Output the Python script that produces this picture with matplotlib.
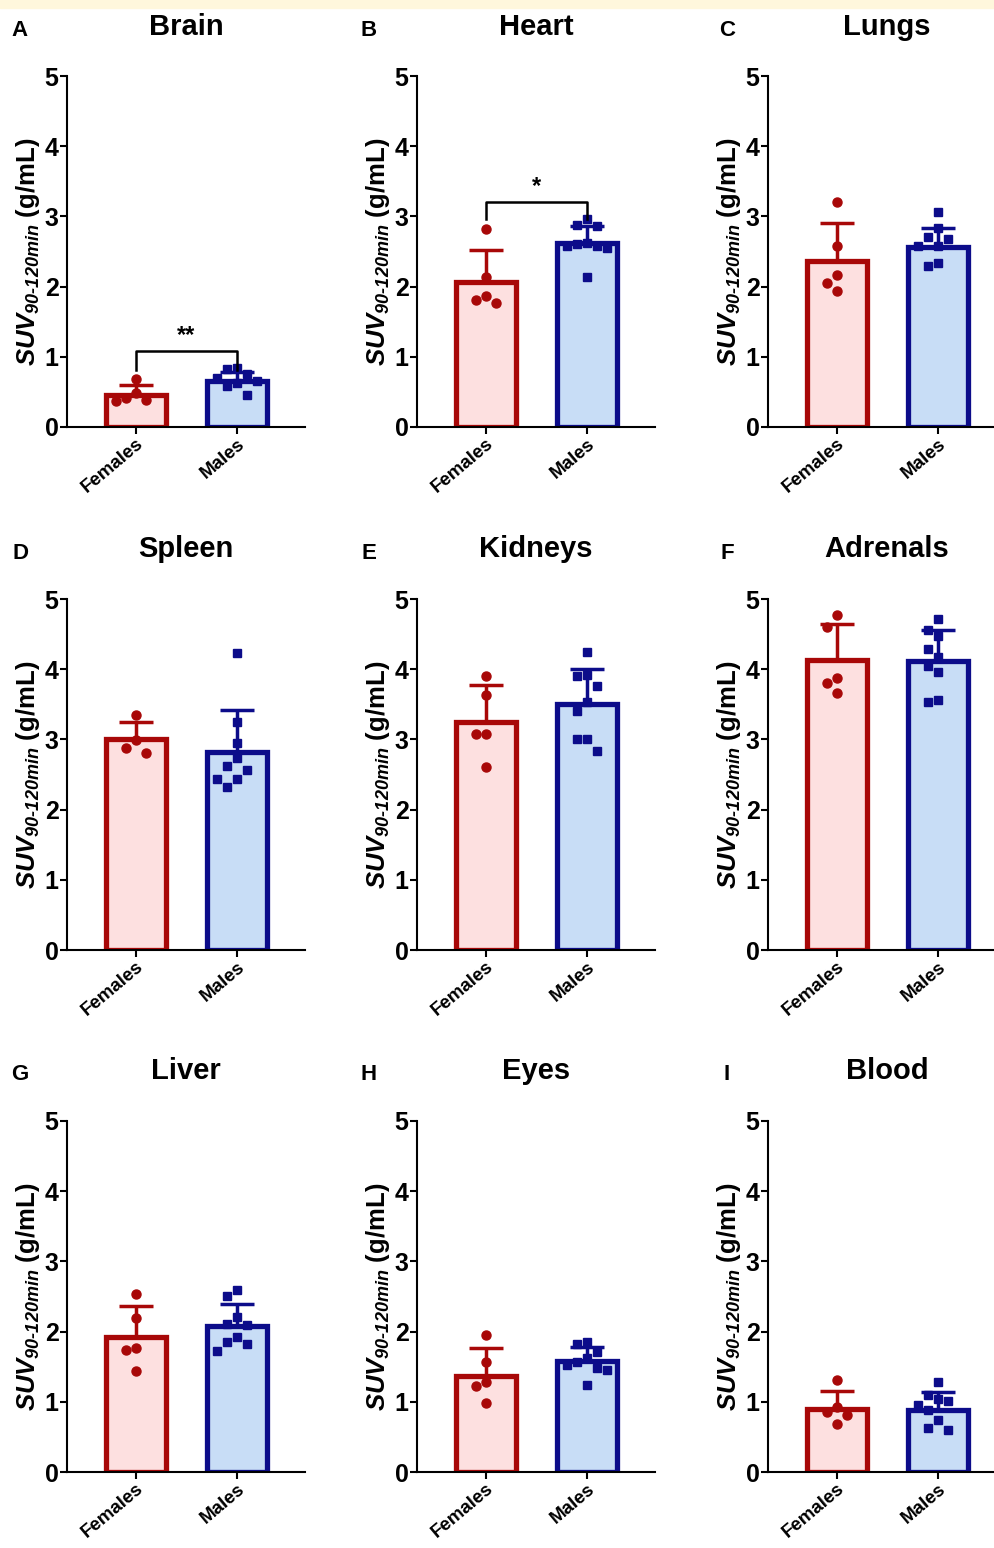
import matplotlib
matplotlib.use("Agg")

import matplotlib.pyplot as plt
from matplotlib.patches import Rectangle

plt.rcParams["font.family"] = "Liberation Sans"
plt.rcParams["font.weight"] = "bold"
plt.rcParams["mathtext.fontset"] = "custom"
plt.rcParams["mathtext.rm"] = "Liberation Sans:bold:italic"
plt.rcParams["mathtext.it"] = "Liberation Sans:bold:italic"
plt.rcParams["mathtext.bf"] = "Liberation Sans:bold:italic"

# data
organs = ["Brain", "Heart", "Lungs", "Spleen", "Kidneys", "Adrenals", "Liver", "Eyes", "Blood"]
letters = ["A", "B", "C", "D", "E", "F", "G", "H", "I"]
groups = ["Females", "Males"]

female_mean = [0.46, 2.07, 2.37, 3.00, 3.25, 4.13, 1.93, 1.37, 0.90]
female_sd = [0.14, 0.45, 0.54, 0.25, 0.52, 0.52, 0.43, 0.40, 0.26]
male_mean = [0.66, 2.62, 2.57, 2.82, 3.51, 4.12, 2.08, 1.58, 0.88]
male_sd = [0.13, 0.25, 0.26, 0.60, 0.49, 0.44, 0.31, 0.20, 0.26]

female_points = [
    [0.69, 0.48, 0.39, 0.37, 0.41],
    [2.82, 2.14, 1.86, 1.77, 1.81],
    [3.20, 2.58, 2.17, 2.05, 1.94],
    [3.35, 2.99, 2.88, 2.81],
    [3.90, 3.63, 3.08, 3.07, 2.61],
    [4.77, 4.60, 3.88, 3.81, 3.66],
    [2.54, 2.19, 1.77, 1.74, 1.44],
    [1.95, 1.56, 1.28, 1.22, 0.98],
    [1.31, 0.93, 0.85, 0.81, 0.68],
]
male_points = [
    [0.84, 0.46, 0.63, 0.70, 0.75, 0.58, 0.82, 0.66],
    [2.97, 2.86, 2.88, 2.60, 2.58, 2.55, 2.58, 2.13, 2.62],
    [3.06, 2.83, 2.68, 2.70, 2.58, 2.58, 2.29, 2.33],
    [4.23, 3.25, 2.95, 2.74, 2.62, 2.56, 2.43, 2.43, 2.32],
    [4.25, 3.90, 3.92, 3.76, 3.53, 3.40, 3.01, 3.01, 2.84],
    [4.72, 4.48, 4.56, 4.29, 4.18, 4.04, 3.96, 3.53, 3.56],
    [2.59, 2.51, 2.21, 2.11, 2.09, 1.93, 1.85, 1.82, 1.73],
    [1.82, 1.85, 1.71, 1.62, 1.52, 1.46, 1.56, 1.48, 1.24],
    [1.28, 1.10, 1.04, 1.01, 0.96, 0.74, 0.62, 0.60, 0.88],
]

# significance brackets: panel index, label, bracket height, leg bottom
sig_panel = [0, 1]
sig_label = ["**", "*"]
sig_top = [1.08, 3.20]
sig_leg = [0.81, 2.97]

F_EDGE, F_FILL = "#a80808", "#fde0e0"
M_EDGE, M_FILL = "#0c0c8a", "#c8ddf6"
YLABEL = r"$SUV_{90\text{-}120min}$ (g/mL)"


def spread(vals, dy=0.2, dx=0.1):
    """grid beeswarm: push overlapping points to side slots"""
    order = sorted(range(len(vals)), key=lambda i: -vals[i])
    slots = [0, -1, 1, -2, 2, -3, 3]
    placed = []
    offs = [0.0] * len(vals)
    for i in order:
        for k in slots:
            if all(pk != k or abs(vals[i] - pv) >= dy for pv, pk in placed):
                placed.append((vals[i], k))
                offs[i] = k * dx
                break
    return offs


fig = plt.figure(figsize=(9.94, 15.48), dpi=100)
fig.patches.append(Rectangle((0, 1 - 8 / 1548), 1, 8 / 1548, transform=fig.transFigure,
                             color="#fff7dc", zorder=0))

col_left = [67, 417, 768]
row_bottom = [427, 950, 1472]
row_title = [27, 549, 1071]
W, H = 238, 351

for i, organ in enumerate(organs):
    r, c = divmod(i, 3)
    ax = fig.add_axes([col_left[c] / 994, 1 - row_bottom[r] / 1548, W / 994, H / 1548])
    ax.set_xlim(-0.683, 1.673)
    ax.set_ylim(0, 5)

    for x, mean, sd, pts, edge, fill, mk, ms in [
        (0, female_mean[i], female_sd[i], female_points[i], F_EDGE, F_FILL, "o", 6.5),
        (1, male_mean[i], male_sd[i], male_points[i], M_EDGE, M_FILL, "s", 6.0),
    ]:
        ax.bar(x, mean, width=0.6, color=fill, edgecolor=edge, linewidth=3.8, zorder=2)
        ax.errorbar(x, mean, yerr=[[0], [sd]], color=edge, elinewidth=2.5,
                    capsize=12, capthick=2.5, zorder=3)
        offs = spread(pts)
        ax.plot([x + o for o in offs], pts, ls="none", marker=mk, ms=ms,
                color=edge, mec=edge, zorder=4, clip_on=False)

    if i in sig_panel:
        j = sig_panel.index(i)
        ax.plot([0, 0, 1, 1], [sig_leg[j], sig_top[j], sig_top[j], sig_leg[j]],
                color="black", lw=1.8, clip_on=False, zorder=5)
        ax.text(0.5, sig_top[j] + 0.06, sig_label[j], ha="center", va="bottom",
                fontsize=17, fontweight="bold")

    for s in ["top", "right"]:
        ax.spines[s].set_visible(False)
    for s in ["left", "bottom"]:
        ax.spines[s].set_linewidth(1.5)
    ax.set_yticks(range(6))
    ax.tick_params(axis="both", width=1.5, length=5, labelsize=18, pad=1)
    ax.set_xticks([0, 1])
    ax.set_xticklabels(groups, rotation=40, ha="right", va="top",
                       rotation_mode="anchor", fontsize=13.5, fontweight="bold")
    ax.set_ylabel(YLABEL, fontsize=18.5, fontweight="bold", labelpad=2)

    cx = (col_left[c] + W / 2) / 994
    fig.text(cx, 1 - row_title[r] / 1548, organ, ha="center", va="center",
             fontsize=21, fontweight="bold")
    fig.text([20, 369, 727][c] / 994, 1 - (row_title[r] + 4) / 1548, letters[i],
             ha="center", va="center", fontsize=16, fontweight="bold")

fig.savefig("out.png", dpi=100)
